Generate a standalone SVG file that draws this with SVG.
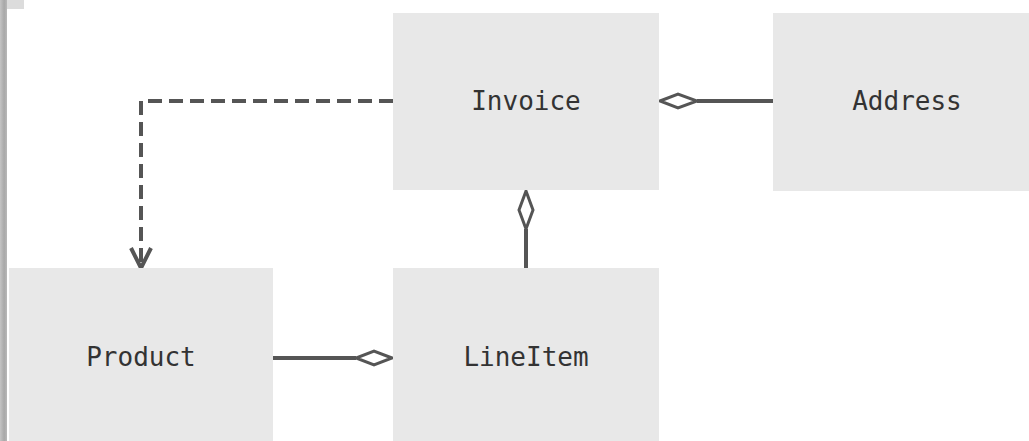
<svg xmlns="http://www.w3.org/2000/svg" width="1029" height="441" viewBox="0 0 1029 441">
  <style>
    .box { fill: #e8e8e8; }
    .label { font-family: "DejaVu Sans Mono", "Liberation Mono", monospace; font-size: 26px; fill: #333333; text-anchor: middle; }
    .link { fill: none; stroke: #555555; stroke-width: 4; }
    .dashed { stroke-dasharray: 14 7; }
    .diamond { fill: #ffffff; stroke: #555555; stroke-width: 3; stroke-linejoin: miter; }
  </style>
  <defs>
    <linearGradient id="edge" x1="0" y1="0" x2="1" y2="0">
      <stop offset="0" stop-color="#c4c4c4"/>
      <stop offset="0.6" stop-color="#a8a8a8"/>
      <stop offset="1" stop-color="#b8b8b8"/>
    </linearGradient>
  </defs>
  <rect width="1029" height="441" fill="#ffffff"/>
  <!-- window edge at the left -->
  <rect x="0" y="0" width="24" height="9" fill="#dcdcdc"/>
  <rect x="0" y="0" width="7" height="441" fill="url(#edge)"/>

  <g id="connectors">
    <!-- dependency Invoice -> Product -->
    <polyline class="link dashed" points="393,101 141,101 141,266"/>
    <polyline class="link" points="131,248 141,268 151,248" stroke-linejoin="miter"/>
    <!-- aggregation Address -> Invoice -->
    <line class="link" x1="697" y1="101" x2="773" y2="101"/>
    <polygon class="diamond" points="660,101 678,94 697,101 678,108"/>
    <!-- aggregation LineItem -> Invoice -->
    <line class="link" x1="526" y1="229" x2="526" y2="268"/>
    <polygon class="diamond" points="526,191 533,210 526,229 519,210"/>
    <!-- aggregation Product -> LineItem -->
    <line class="link" x1="273" y1="358" x2="356" y2="358"/>
    <polygon class="diamond" points="392,358 374,351 356,358 374,365"/>
  </g>

  <g id="invoice">
    <rect class="box" x="393" y="13" width="266" height="177"/>
    <text class="label" x="526" y="110">Invoice</text>
  </g>
  <g id="address">
    <rect class="box" x="773" y="13" width="256" height="178"/>
    <text class="label" x="907" y="110">Address</text>
  </g>
  <g id="product">
    <rect class="box" x="9" y="268" width="264" height="173"/>
    <text class="label" x="141" y="366">Product</text>
  </g>
  <g id="lineitem">
    <rect class="box" x="393" y="268" width="266" height="173"/>
    <text class="label" x="526" y="366">LineItem</text>
  </g>
</svg>
